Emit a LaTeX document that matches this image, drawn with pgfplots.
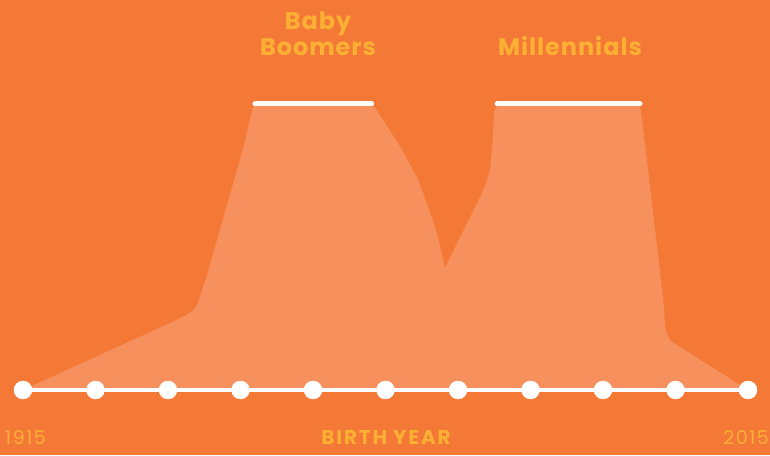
\documentclass[border=0pt]{standalone}
\usepackage{pgfplots}
\pgfplotsset{compat=1.18}
\usepackage{fontspec}
\setmainfont{Poppins}
\definecolor{bgc}{HTML}{F47937}
\definecolor{areac}{HTML}{F6915D}
\definecolor{txtc}{HTML}{FBB034}
\begin{document}
\begin{tikzpicture}
\begin{axis}[
  scale only axis,
  width=770pt, height=455pt,
  xmin=1911.83, xmax=2018.03,
  ymin=-22.73, ymax=136.36,
  axis line style={draw=none},
  ticks=none,
  axis background/.style={fill=bgc},
  clip=false,
]
\addplot[fill=areac, draw=none] coordinates {
(1915,0) (1935.28,23.4) (1937.3,25.9) (1938.4,27.6) (1939.0,29.7) (1940.2,38.5)
(1945.3,83.9) (1946.7,98.6) (1947.0,99.5) (1963.1,99.5) (1963.6,98.6) (1967.3,83.9)
(1969.3,74.5) (1970.2,68.9) (1972.1,54.9) (1973.2,42.7) (1976.7,60.5) (1978.7,71.0)
(1979.4,76.9) (1979.7,83.9) (1980.0,97.2) (1980.4,99.5) (2000.1,99.5) (2000.9,83.9)
(2003.3,31.5) (2003.6,21.0) (2004.2,17.5) (2005.2,15.7) (2015,0)
} -- cycle;
\addplot[white, line width=5pt, line cap=round] coordinates {(1947,100) (1963.1,100)};
\addplot[white, line width=5pt, line cap=round] coordinates {(1980.4,100) (2000.1,100)};
\addplot[white, line width=4pt] coordinates {(1915,0) (2015,0)};
\addplot[only marks, mark=*, mark size=9pt, white, mark options={draw=white, fill=white}] coordinates {
(1915,0) (1925,0) (1935,0) (1945,0) (1955,0) (1965,0) (1975,0) (1985,0) (1995,0) (2005,0) (2015,0)};
\node[anchor=base, text=txtc, font=\fontsize{24}{28}\selectfont\bfseries\addfontfeature{LetterSpace=4}] at (axis cs:1955.7,125.9) {Baby};
\node[anchor=base, text=txtc, font=\fontsize{24}{28}\selectfont\bfseries\addfontfeature{LetterSpace=4}] at (axis cs:1955.7,116.8) {Boomers};
\node[anchor=base, text=txtc, font=\fontsize{24}{28}\selectfont\bfseries\addfontfeature{LetterSpace=4}] at (axis cs:1990.45,116.8) {Millennials};
\node[anchor=base, text=txtc, font=\fontsize{20}{22}\selectfont\bfseries\addfontfeature{LetterSpace=9}] at (axis cs:1965.07,-19.2) {BIRTH YEAR};
\node[anchor=base west, inner sep=0pt, text=txtc, font=\fontsize{19}{22}\selectfont\addfontfeature{LetterSpace=8}] at (axis cs:1912.52,-19.2) {1915};
\node[anchor=base east, inner sep=0pt, text=txtc, font=\fontsize{19}{22}\selectfont\addfontfeature{LetterSpace=8}] at (axis cs:2017.9,-19.2) {2015};
\end{axis}
\end{tikzpicture}
\end{document}
